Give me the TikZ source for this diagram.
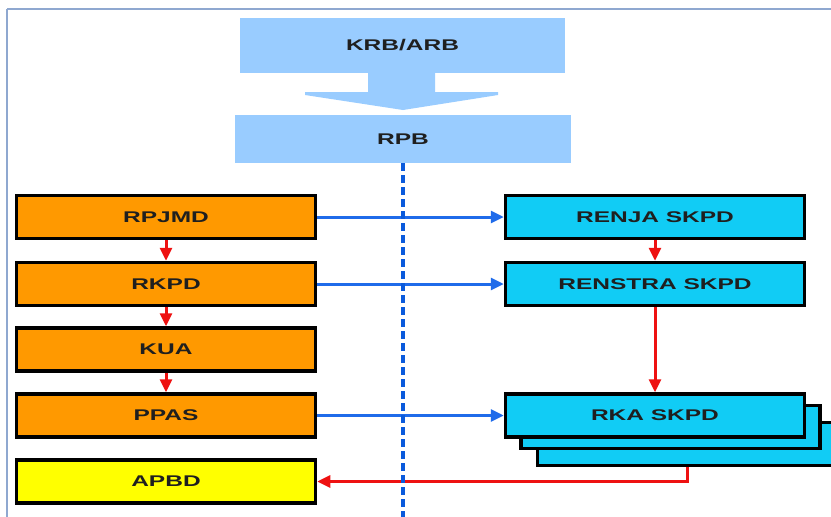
\documentclass[tikz,border=0pt]{standalone}
\usepackage{graphicx}
\usepackage{fontspec}
\setmainfont{Liberation Sans}
\usetikzlibrary{arrows.meta}
\definecolor{lightblue}{HTML}{99CCFF}
\definecolor{orangebox}{HTML}{FF9900}
\definecolor{cyanbox}{HTML}{11CCF5}
\definecolor{yellowbox}{HTML}{FFFF00}
\definecolor{arrowblue}{HTML}{1F6BEA}
\definecolor{dashblue}{HTML}{0A5ADC}
\definecolor{arrowred}{HTML}{EE1111}
\definecolor{framecol}{HTML}{8FA8D0}
\newcommand\wt[1]{\scalebox{1.58}[1]{#1}}
\tikzset{
  txt/.style={font=\bfseries\fontsize{15.5}{18}\selectfont, text=black!88},
  topbox/.style={txt, fill=lightblue, draw=none, inner sep=0pt},
  flowbox/.style={txt, draw=black, line width=3.5pt, minimum width=299pt, minimum height=43pt, inner sep=0pt},
  orangestep/.style={flowbox, fill=orangebox},
  cyanstep/.style={flowbox, fill=cyanbox},
  yellowstep/.style={flowbox, fill=yellowbox},
  bluearrow/.style={draw=arrowblue, line width=3pt, -{Triangle[length=13pt,width=12pt]}},
  redarrow/.style={draw=arrowred, line width=3pt, -{Triangle[length=13pt,width=12pt]}},
}
\begin{document}
\begin{tikzpicture}[x=1pt,y=-1pt]
\useasboundingbox (0,0) rectangle (831,517);
\fill[white] (0,0) rectangle (831,517);
% frame
\draw[framecol, line width=2pt] (7,9) -- (840,9);
\draw[framecol, line width=2pt] (7,9) -- (7,530);
% top boxes
\node[topbox, minimum width=325pt, minimum height=55pt] (krb) at (402.5,45) {\wt{KRB/ARB}};
\node[topbox, minimum width=336pt, minimum height=48pt] (rpb) at (403,139) {\wt{RPB}};
\fill[lightblue] (368,72) -- (435,72) -- (435,92) -- (498,92) -- (498,95) -- (403,110) -- (305,95) -- (305,92) -- (368,92) -- cycle;
% left column
\node[orangestep] (rpjmd) at (166,217) {\wt{RPJMD}};
\node[orangestep] (rkpd) at (166,284) {\wt{RKPD}};
\node[orangestep] (kua) at (166,349.5) {\wt{KUA}};
\node[orangestep] (ppas) at (166,415.5) {\wt{PPAS}};
\node[yellowstep] (apbd) at (166,481.5) {\wt{APBD}};
% right column
\node[cyanstep] (rka3) at (687,444) {};
\node[cyanstep] (rka2) at (670.5,427) {};
\node[cyanstep] (rka) at (655,415.5) {\wt{RKA SKPD}};
\node[cyanstep] (renja) at (655,217) {\wt{RENJA SKPD}};
\node[cyanstep] (renstra) at (655,284) {\wt{RENSTRA SKPD}};
% red arrows
\draw[redarrow] (rpjmd.south) -- (rkpd.north);
\draw[redarrow] (rkpd.south) -- (kua.north);
\draw[redarrow] (kua.south) -- (ppas.north);
\draw[redarrow] (renja.south) -- (renstra.north);
\draw[redarrow] (renstra.south) -- (rka.north);
\draw[redarrow] (rka3.south) |- (apbd.east);
% blue arrows
\draw[bluearrow] (rpjmd.east) -- (renja.west);
\draw[bluearrow] (rkpd.east) -- (renstra.west);
\draw[bluearrow] (ppas.east) -- (rka.west);
% dashed centre line
\coordinate (dashend) at (403,517);
\draw[dashblue, line width=4pt, dash pattern=on 8pt off 4pt] (rpb.south) -- (dashend);
\end{tikzpicture}
\end{document}
